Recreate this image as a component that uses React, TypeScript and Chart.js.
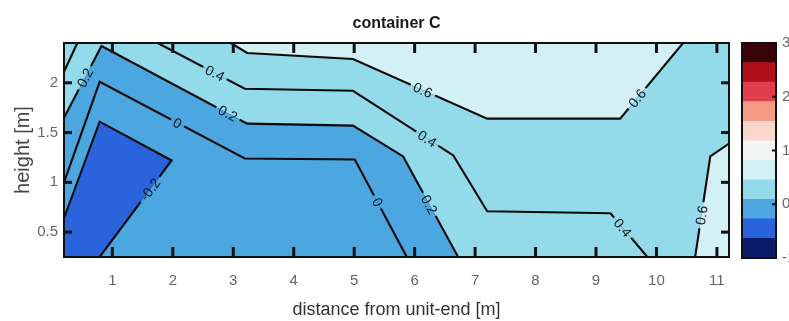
import React, { useEffect, useRef } from 'react';
import { Chart, registerables } from 'chart.js';

Chart.register(...registerables);

// ---------- axes ----------
const X_MIN = 0.2;
const X_MAX = 11.2;
const Y_MIN = 0.25;
const Y_MAX = 2.4;
const xTicks = [1, 2, 3, 4, 5, 6, 7, 8, 9, 10, 11];
const yTicks = [0.5, 1, 1.5, 2];

// ---------- colour bar ----------
const colorbarTicks = [-1, 0, 1, 2, 3];
const colorbarInnerTicks = [0, 1, 2];
const colorbarBounds = [-1, -0.636, -0.273, 0.091, 0.455, 0.818, 1.182, 1.545, 1.909, 2.273, 2.636, 3];
const colormap = [
  '#0c1a6a', '#2a64dc', '#4ca6e0', '#93dbea', '#d3f0f5', '#f3f5f5',
  '#fbd6cc', '#f79c84', '#e03e4a', '#b0101a', '#380408',
];

// ---------- contour lines (x: distance [m], y: height [m]) ----------
const levelM02 = [
  { x: 0.2, y: 0.64 }, { x: 0.79, y: 1.61 }, { x: 1.98, y: 1.22 }, { x: 0.79, y: 0.25 },
];
const level0 = [
  { x: 0.2, y: 1.0 }, { x: 0.79, y: 2.01 }, { x: 3.19, y: 1.24 }, { x: 5.01, y: 1.23 }, { x: 5.87, y: 0.25 },
];
const level02 = [
  { x: 0.2, y: 1.65 }, { x: 0.82, y: 2.37 }, { x: 3.23, y: 1.59 }, { x: 4.98, y: 1.57 },
  { x: 5.81, y: 1.26 }, { x: 6.72, y: 0.25 },
];
const level04Corner = [{ x: 0.2, y: 2.11 }, { x: 0.42, y: 2.4 }];
const level04 = [
  { x: 1.75, y: 2.4 }, { x: 3.19, y: 1.94 }, { x: 4.98, y: 1.92 }, { x: 6.64, y: 1.27 },
  { x: 7.2, y: 0.71 }, { x: 9.24, y: 0.69 }, { x: 9.85, y: 0.25 },
];
const level06 = [
  { x: 2.96, y: 2.4 }, { x: 3.23, y: 2.3 }, { x: 4.98, y: 2.24 }, { x: 7.2, y: 1.64 },
  { x: 9.4, y: 1.64 }, { x: 10.44, y: 2.4 },
];
const level06Right = [{ x: 11.2, y: 1.39 }, { x: 10.89, y: 1.26 }, { x: 10.64, y: 0.25 }];

const contourLines = [
  { level: -0.2, pts: levelM02 },
  { level: 0, pts: level0 },
  { level: 0.2, pts: level02 },
  { level: 0.4, pts: level04Corner },
  { level: 0.4, pts: level04 },
  { level: 0.6, pts: level06 },
  { level: 0.6, pts: level06Right },
];

// inline contour labels
const contourLabels = [
  { level: -0.2, x: 1.62, y: 0.93 },
  { level: 0, x: 2.08, y: 1.6 },
  { level: 0, x: 5.38, y: 0.8 },
  { level: 0.2, x: 0.55, y: 2.05 },
  { level: 0.2, x: 2.91, y: 1.69 },
  { level: 0.2, x: 6.25, y: 0.78 },
  { level: 0.4, x: 2.7, y: 2.1 },
  { level: 0.4, x: 6.2, y: 1.43 },
  { level: 0.4, x: 9.44, y: 0.545 },
  { level: 0.6, x: 6.13, y: 1.92 },
  { level: 0.6, x: 9.68, y: 1.845 },
  { level: 0.6, x: 10.74, y: 0.67 },
];

const FONT = '"Liberation Sans", Arial, Helvetica, sans-serif';

type P = { x: number; y: number };

function projectOnSeg(c: any, a: any, b: any) {
  const dx = b.X - a.X;
  const dy = b.Y - a.Y;
  const L = dx * dx + dy * dy;
  let t = L ? ((c.X - a.X) * dx + (c.Y - a.Y) * dy) / L : 0;
  t = Math.max(0, Math.min(1, t));
  const q = { X: a.X + t * dx, Y: a.Y + t * dy };
  return { q, d: Math.hypot(c.X - q.X, c.Y - q.Y) };
}

const labelPlugin = {
  id: 'contourLabels',
  afterDatasetsDraw(chart: any) {
    const { ctx } = chart;
    const xs = chart.scales.x;
    const ys = chart.scales.y;
    const toPx = (p: P) => ({ X: xs.getPixelForValue(p.x), Y: ys.getPixelForValue(p.y) });
    const items = contourLabels.map((lb) => {
      const c = toPx(lb);
      let best: any = null;
      contourLines
        .filter((l) => l.level === lb.level)
        .forEach((l) => {
          for (let i = 0; i < l.pts.length - 1; i++) {
            const a = toPx(l.pts[i]);
            const b = toPx(l.pts[i + 1]);
            const r = projectOnSeg(c, a, b);
            if (!best || r.d < best.d) best = { d: r.d, q: r.q, a, b };
          }
        });
      let ang = Math.atan2(best.b.Y - best.a.Y, best.b.X - best.a.X);
      if (ang > Math.PI / 2) ang -= Math.PI;
      if (ang <= -Math.PI / 2) ang += Math.PI;
      const nx = -Math.sin(ang);
      const ny = Math.cos(ang);
      const q = best.q;
      const s1 = ctx.getImageData(Math.round(q.X + nx * 9), Math.round(q.Y + ny * 9), 1, 1).data;
      const s2 = ctx.getImageData(Math.round(q.X - nx * 9), Math.round(q.Y - ny * 9), 1, 1).data;
      return {
        q,
        ang,
        below: `rgb(${s1[0]},${s1[1]},${s1[2]})`,
        above: `rgb(${s2[0]},${s2[1]},${s2[2]})`,
        text: lb.level === 0 ? '0' : String(lb.level),
      };
    });
    ctx.save();
    ctx.font = `14px ${FONT}`;
    items.forEach((it) => {
      const w = ctx.measureText(it.text).width + 7;
      const h = 13;
      ctx.save();
      ctx.translate(it.q.X, it.q.Y);
      ctx.rotate(it.ang);
      ctx.fillStyle = it.above;
      ctx.fillRect(-w / 2, -h / 2, w, h / 2);
      ctx.fillStyle = it.below;
      ctx.fillRect(-w / 2, 0, w, h / 2);
      ctx.fillStyle = '#0f1822';
      ctx.textAlign = 'center';
      ctx.textBaseline = 'middle';
      ctx.fillText(it.text, 0, 1);
      ctx.restore();
    });
    ctx.restore();
  },
};

const framePlugin = {
  id: 'frameTicks',
  afterDraw(chart: any) {
    const { ctx, chartArea: a } = chart;
    const xs = chart.scales.x;
    const ys = chart.scales.y;
    const seg = (x1: number, y1: number, x2: number, y2: number) => {
      ctx.beginPath();
      ctx.moveTo(x1, y1);
      ctx.lineTo(x2, y2);
      ctx.stroke();
    };
    ctx.save();
    ctx.strokeStyle = '#111';
    ctx.lineWidth = 3;
    xTicks.forEach((v) => {
      const p = xs.getPixelForValue(v);
      seg(p, a.bottom, p, a.bottom - 10);
      seg(p, a.top, p, a.top + 10);
    });
    yTicks.forEach((v) => {
      const p = ys.getPixelForValue(v);
      seg(a.left, p, a.left + 8, p);
      seg(a.right, p, a.right - 8, p);
    });
    ctx.lineWidth = 2;
    ctx.strokeRect(a.left, a.top, a.right - a.left, a.bottom - a.top);
    ctx.restore();
  },
};

const cbFramePlugin = {
  id: 'cbFrame',
  afterDraw(chart: any) {
    const { ctx, chartArea: a } = chart;
    const ys = chart.scales.y;
    ctx.save();
    ctx.strokeStyle = '#111';
    ctx.lineWidth = 2;
    colorbarInnerTicks.forEach((v) => {
      const p = ys.getPixelForValue(v);
      ctx.beginPath();
      ctx.moveTo(a.right, p);
      ctx.lineTo(a.right - 4, p);
      ctx.stroke();
    });
    ctx.strokeRect(a.left, a.top, a.right - a.left, a.bottom - a.top);
    ctx.restore();
  },
};

function polygon(pts: P[], color: string, order: number) {
  return {
    data: pts,
    showLine: true,
    fill: 'shape',
    backgroundColor: color,
    borderColor: 'rgba(0,0,0,0)',
    borderWidth: 1,
    pointRadius: 0,
    tension: 0,
    order,
  };
}

function contour(pts: P[]) {
  return {
    data: pts,
    showLine: true,
    fill: false,
    borderColor: '#0a0a0a',
    borderWidth: 2.1,
    pointRadius: 0,
    tension: 0,
    order: 1,
  };
}

export default function App() {
  const mainRef = useRef<HTMLCanvasElement>(null);
  const cbRef = useRef<HTMLCanvasElement>(null);

  useEffect(() => {
    const background = [
      { x: X_MIN, y: Y_MIN }, { x: X_MAX, y: Y_MIN }, { x: X_MAX, y: Y_MAX }, { x: X_MIN, y: Y_MAX },
    ];
    const datasets: any[] = [
      polygon(background, colormap[3], 20),
      polygon(level06, colormap[4], 19),
      polygon([...level06Right, { x: X_MAX, y: Y_MIN }], colormap[4], 18),
      polygon([...level02, { x: X_MIN, y: Y_MIN }], colormap[2], 17),
      polygon([...levelM02, { x: X_MIN, y: Y_MIN }], colormap[1], 16),
      ...contourLines.map((l) => contour(l.pts)),
    ];

    const main = new Chart(mainRef.current as HTMLCanvasElement, {
      type: 'scatter',
      data: { datasets },
      options: {
        animation: false,
        responsive: false,
        events: [],
        layout: { padding: { left: 0, right: 60, top: 0, bottom: 0 } },
        plugins: {
          legend: { display: false },
          tooltip: { enabled: false },
          title: {
            display: true,
            text: 'container C',
            fullSize: false,
            color: '#1a1a1a',
            font: { family: FONT, size: 16, weight: 'bold', lineHeight: 1.2 },
            padding: { top: 14, bottom: 9.8 },
          },
        },
        scales: {
          x: {
            type: 'linear',
            min: X_MIN,
            max: X_MAX,
            afterBuildTicks: (s: any) => {
              s.ticks = xTicks.map((v) => ({ value: v }));
            },
            afterFit: (s: any) => {
              s.height = 64;
            },
            grid: { display: false, drawTicks: false },
            border: { display: false },
            ticks: {
              padding: 15,
              color: '#666',
              font: { family: FONT, size: 15 },
              maxRotation: 0,
              callback: (v: any) => String(v),
            },
            title: {
              display: true,
              text: 'distance from unit-end [m]',
              color: '#333',
              font: { family: FONT, size: 18, lineHeight: 1.2 },
              padding: { top: 0, bottom: 0 },
            },
          },
          y: {
            type: 'linear',
            min: Y_MIN,
            max: Y_MAX,
            afterBuildTicks: (s: any) => {
              s.ticks = yTicks.map((v) => ({ value: v }));
            },
            afterFit: (s: any) => {
              s.width = 64;
            },
            grid: { display: false, drawTicks: false },
            border: { display: false },
            ticks: {
              padding: 6,
              color: '#666',
              font: { family: FONT, size: 15 },
              callback: (v: any) => String(v),
            },
            title: {
              display: true,
              text: 'height [m]',
              color: '#444',
              font: { family: FONT, size: 20, lineHeight: 1.2 },
              padding: { top: 11, bottom: 0 },
            },
          },
        },
      } as any,
      plugins: [labelPlugin, framePlugin],
    });

    const cbDatasets = colormap.map((c, i) => ({
      data: [[colorbarBounds[i], colorbarBounds[i + 1]]],
      backgroundColor: c,
      borderWidth: 0,
      grouped: false,
      barPercentage: 1,
      categoryPercentage: 1,
    }));

    const cb = new Chart(cbRef.current as HTMLCanvasElement, {
      type: 'bar',
      data: { labels: [''], datasets: cbDatasets as any },
      options: {
        animation: false,
        responsive: false,
        events: [],
        layout: { padding: { left: 22, right: 0, top: 43, bottom: 63 } },
        plugins: { legend: { display: false }, tooltip: { enabled: false } },
        scales: {
          x: { display: false },
          y: {
            position: 'right',
            min: -1,
            max: 3,
            afterBuildTicks: (s: any) => {
              s.ticks = colorbarTicks.map((v) => ({ value: v }));
            },
            afterFit: (s: any) => {
              s.width = 44;
            },
            grid: { display: false, drawTicks: false },
            border: { display: false },
            ticks: { padding: 6, color: '#666', font: { family: FONT, size: 15 } },
          },
        },
      } as any,
      plugins: [cbFramePlugin],
    });

    return () => {
      main.destroy();
      cb.destroy();
    };
  }, []);

  return (
    <div
      style={{
        position: 'fixed',
        left: 0,
        top: 0,
        width: 789,
        height: 321,
        overflow: 'hidden',
        background: '#ffffff',
      }}
    >
      <canvas ref={mainRef} width={789} height={321} style={{ position: 'absolute', left: 0, top: 0 }} />
      <canvas ref={cbRef} width={100} height={321} style={{ position: 'absolute', left: 720, top: 0 }} />
    </div>
  );
}
